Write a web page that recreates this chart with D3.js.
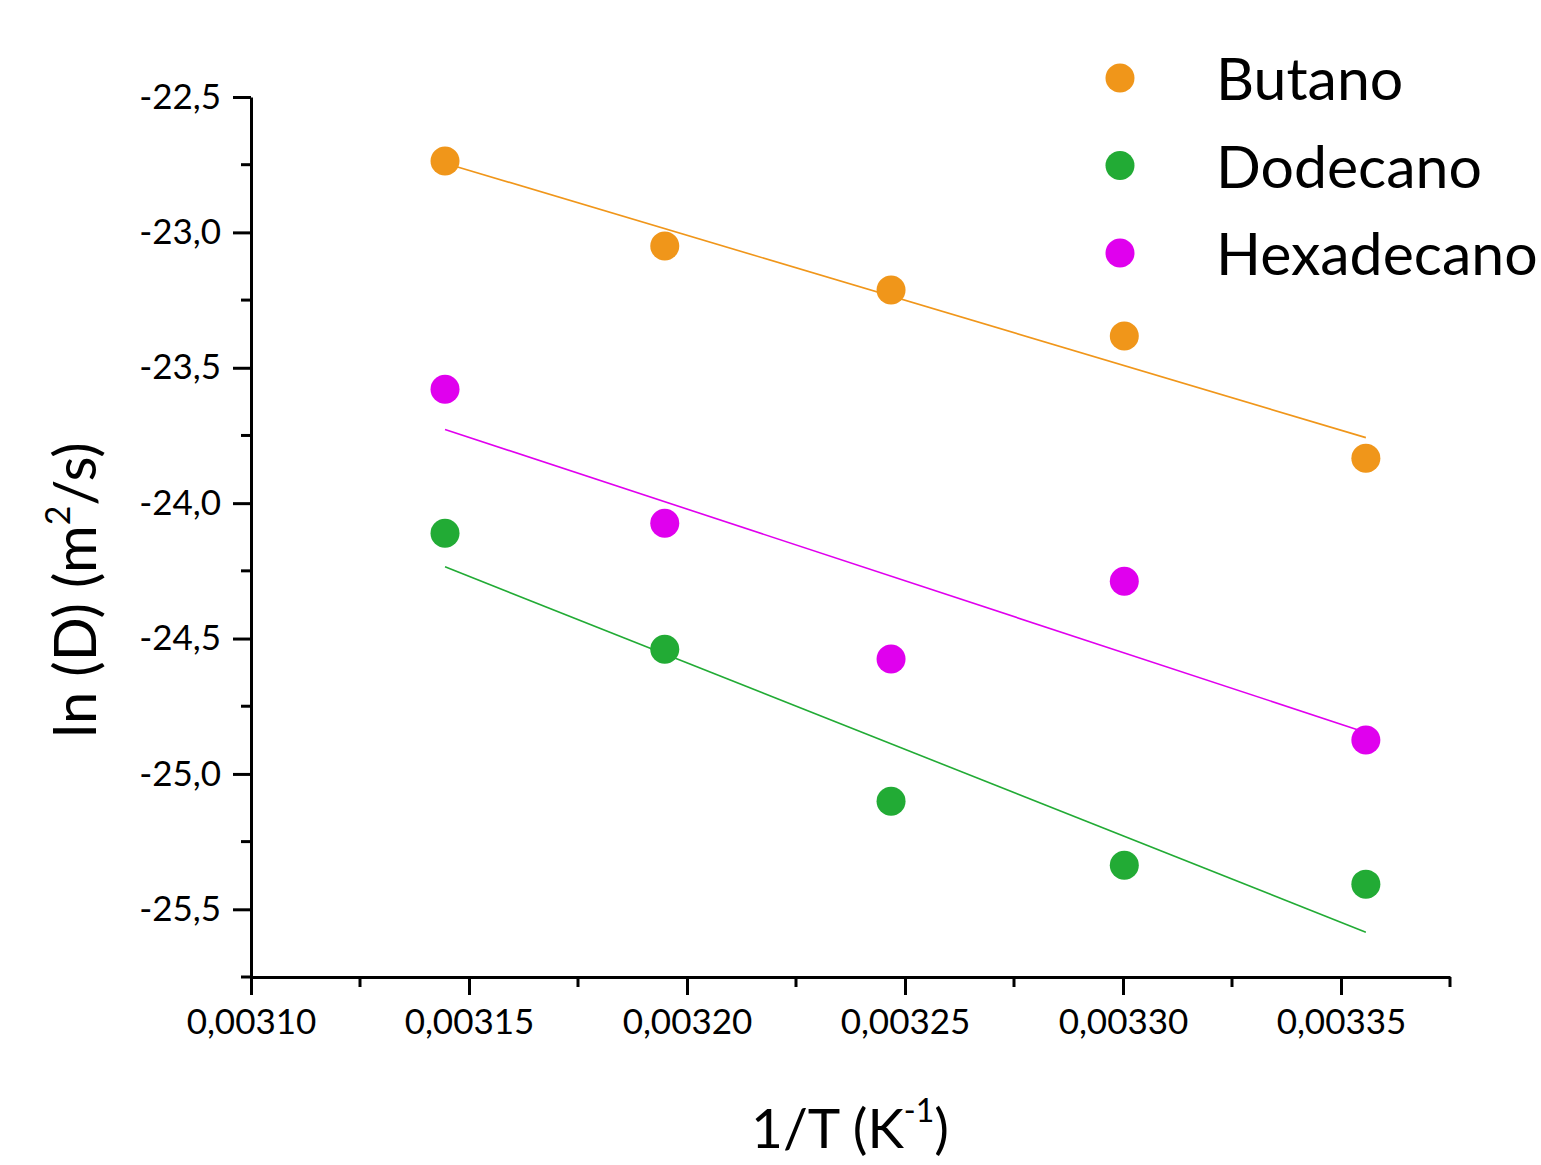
<!DOCTYPE html>
<html>
<head>
<meta charset="utf-8">
<script src="https://cdn.jsdelivr.net/npm/d3@7"></script>
<style>
  body { margin: 0; background: #fff; }
  text { font-family: Lato, "Open Sans", sans-serif; fill: #000; }
</style>
</head>
<body>
<div id="chart"></div>
<script>
// data (1/T in K^-1, ln D)
const invT = [0.0031445, 0.0031949, 0.0032468, 0.0033003, 0.0033557];
const butano = [-22.736, -23.050, -23.213, -23.383, -23.834];
const dodecano = [-24.111, -24.540, -25.101, -25.337, -25.407];
const hexadecano = [-23.579, -24.074, -24.576, -24.288, -24.875];
const seriesNames = ["Butano", "Dodecano", "Hexadecano"];
const seriesColors = ["#f0961a", "#22ab35", "#e000ee"];
const xTicks = [0.00310, 0.00315, 0.00320, 0.00325, 0.00330, 0.00335];
const yTicks = [-22.5, -23.0, -23.5, -24.0, -24.5, -25.0, -25.5];

const series = [butano, dodecano, hexadecano].map(function (vals, i) {
    return { name: seriesNames[i], color: seriesColors[i], values: vals };
});

let frame = { width: 1541, height: 1165 };
let plot = { left: 251, right: 1450, top: 97, bottom: 977 };

let svg = d3.select("#chart").append("svg")
    .attr("width", frame.width)
    .attr("height", frame.height);

let x = d3.scaleLinear()
    .domain([0.0031, 0.003375])
    .range([plot.left, plot.right]);

let y = d3.scaleLinear()
    .domain([-25.75, -22.5])
    .range([plot.bottom, plot.top]);

let loc = d3.formatLocale({ decimal: ",", thousands: ".", grouping: [3], currency: ["", ""], minus: "-" });
let fmtX = loc.format(".5f");
let fmtY = loc.format(".1f");

// minor ticks
let xMinor = d3.range(0, 12).map(function (i) { return 0.003125 + i * 0.00005; }).filter(function (v) { return v <= 0.003376; });
let yMinor = d3.range(0, 7).map(function (i) { return -22.75 - i * 0.5; });

// x axis
let xAxis = svg.append("g")
    .attr("transform", "translate(0," + plot.bottom + ")")
    .call(d3.axisBottom(x).tickValues(xTicks).tickFormat(fmtX).tickSize(18).tickSizeOuter(0).tickPadding(14));
xAxis.select(".domain").attr("stroke-width", 3).attr("stroke", "#000");
xAxis.selectAll(".tick line").attr("stroke-width", 3);
xAxis.selectAll(".tick text").style("font-size", "35px");
xAxis.append("g").selectAll("line").data(xMinor).join("line")
    .attr("x1", function (d) { return x(d); }).attr("x2", function (d) { return x(d); })
    .attr("y1", 0).attr("y2", 10)
    .attr("stroke", "#000").attr("stroke-width", 3);

// y axis
let yAxis = svg.append("g")
    .attr("transform", "translate(" + plot.left + ",0)")
    .call(d3.axisLeft(y).tickValues(yTicks).tickFormat(fmtY).tickSize(18).tickSizeOuter(0).tickPadding(12));
yAxis.select(".domain").attr("stroke-width", 3).attr("stroke", "#000");
yAxis.selectAll(".tick line").attr("stroke-width", 3);
yAxis.selectAll(".tick text").style("font-size", "35px");
yAxis.append("g").selectAll("line").data(yMinor).join("line")
    .attr("y1", function (d) { return y(d); }).attr("y2", function (d) { return y(d); })
    .attr("x1", 0).attr("x2", -10)
    .attr("stroke", "#000").attr("stroke-width", 3);

// axis titles
let yTitle = svg.append("text")
    .attr("transform", "translate(96,590) rotate(-90)")
    .attr("text-anchor", "middle")
    .style("font-size", "58px");
yTitle.append("tspan").text("ln (D) (m");
yTitle.append("tspan").attr("dy", -26).style("font-size", "34px").text("2");
yTitle.append("tspan").attr("dy", 26).text("/s)");

let xTitle = svg.append("text")
    .attr("x", 850).attr("y", 1148)
    .attr("text-anchor", "middle")
    .style("font-size", "55px");
xTitle.append("tspan").text("1/T (K");
xTitle.append("tspan").attr("dy", -26).style("font-size", "32px").text("-1");
xTitle.append("tspan").attr("dy", 26).text(")");

// linear fit for each series
function fit(xs, ys) {
    let mx = d3.mean(xs), my = d3.mean(ys);
    let sxy = d3.sum(xs, function (v, i) { return (v - mx) * (ys[i] - my); });
    let sxx = d3.sum(xs, function (v) { return (v - mx) * (v - mx); });
    let b = sxy / sxx;
    return function (v) { return my + b * (v - mx); };
}

let fitLine = d3.line()
    .x(function (d) { return x(d); });

series.forEach(function (s) {
    let f = fit(invT, s.values);
    let ends = d3.extent(invT);
    svg.append("path")
        .datum(ends)
        .attr("d", fitLine.y(function (d) { return y(f(d)); }))
        .attr("stroke", s.color)
        .attr("stroke-width", 1.6)
        .attr("fill", "none");
});

series.forEach(function (s) {
    svg.append("g").selectAll("circle").data(s.values).join("circle")
        .attr("cx", function (d, i) { return x(invT[i]); })
        .attr("cy", function (d) { return y(d); })
        .attr("r", 14.5)
        .attr("fill", s.color);
});

// legend
let legend = svg.append("g").selectAll("g").data(series).join("g")
    .attr("transform", function (d, i) { return "translate(1120," + (78 + i * 87.5) + ")"; });
legend.append("circle").attr("r", 14.5).attr("fill", function (d) { return d.color; });
legend.append("text")
    .attr("x", 96).attr("y", 22)
    .style("font-size", "59px")
    .text(function (d) { return d.name; });
</script>
</body>
</html>
